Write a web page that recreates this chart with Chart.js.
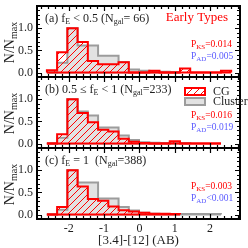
<!DOCTYPE html>
<html>
<head>
<meta charset="utf-8">
<script src="https://cdn.jsdelivr.net/npm/chart.js@4.4.1/dist/chart.umd.min.js"></script>
<style>
  body { margin: 0; background: #fff; }
  #wrap { position: relative; width: 248px; height: 248px; overflow: hidden; }
  canvas { position: absolute; left: 0; }
</style>
</head>
<body>
<div id="wrap">
  <canvas id="pa" width="248" height="79" style="top:0px"></canvas>
  <canvas id="pb" width="248" height="79" style="top:71px"></canvas>
  <canvas id="pc" width="248" height="106" style="top:142px"></canvas>
</div>
<script>
// bin edges of the [3.4]-[12] histograms
const binEdges = [-2.62, -2.33, -2.04, -1.75, -1.46, -1.17, -0.88, -0.59, -0.30, -0.01,
                  0.28, 0.57, 0.86, 1.15, 1.44, 1.73, 2.02, 2.31, 2.60, 2.89];

// N/Nmax per bin
const cgA      = [0.05, 0.46, 1.00, 0.69, 0.26, 0.19, 0.19, 0.23, 0, 0, 0.04, 0, 0, 0.09, 0, 0, 0, 0.04];
const clusterA = [0, 0.22, 1.00, 0.61, 0.61, 0.38, 0.38, 0.24, 0.07, 0.04, 0.02, 0.02, 0.01];
const cgB      = [0, 0.21, 1.00, 0.69, 0.48, 0.31, 0.27, 0.11, 0.04, 0.01, 0, 0, 0.05, 0, 0, 0, 0];
const clusterB = [0, 0.13, 1.00, 0.72, 0.63, 0.36, 0.36, 0.18, 0.08, 0.03, 0.02, 0.01, 0.01, 0.01];
const cgC      = [0, 0.17, 1.00, 0.63, 0.35, 0.31, 0.18, 0.10, 0.07, 0.04, 0.02, 0.02, 0.01];
const clusterC = [0, 0.11, 1.00, 0.72, 0.72, 0.36, 0.36, 0.17, 0.09, 0.04, 0.02, 0.01, 0.01, 0.01, 0.01, 0.01, 0.01];

const xTickValues = [-2, -1, 0, 1, 2];
const yTickValues = [0, 0.5, 1];
const pKS = ['=0.014', '=0.016', '=0.003'];
const pAD = ['=0.005', '=0.019', '<0.001'];
const panelLabels = [
  [['(a) f', 0], ['E', 1], [' < 0.5 (N', 0], ['gal', 1], ['= 66)', 0]],
  [['(b) 0.5 \u2264 f', 0], ['E', 1], [' < 1 (N', 0], ['gal', 1], ['=233)', 0]],
  [['(c) f', 0], ['E', 1], [' = 1  (N', 0], ['gal', 1], ['=388)', 0]]
];

const SERIF = '"Liberation Serif", "DejaVu Serif", serif';
const RED = '#ff0000';
const BLUE = '#5a5aff';
const INK = '#1e1e1e';
const GREY_FILL = '#e2e2e2';
const GREY_LINE = '#9c9c9c';

function makeHatch() {
  const c = document.createElement('canvas');
  c.width = 7; c.height = 7;
  const g = c.getContext('2d');
  g.strokeStyle = RED;
  g.lineWidth = 1;
  g.beginPath();
  g.moveTo(-1, 8); g.lineTo(8, -1);
  g.moveTo(-2, 2); g.lineTo(2, -2);
  g.moveTo(5, 9); g.lineTo(9, 5);
  g.stroke();
  return g.createPattern(c, 'repeat');
}
const hatch = makeHatch();

// outline of a histogram as points for a stepped line
function steps(vals) {
  const pts = [{ x: binEdges[0], y: 0 }];
  vals.forEach((v, i) => pts.push({ x: binEdges[i], y: v }));
  pts.push({ x: binEdges[vals.length], y: 0 });
  return pts;
}
function base(vals) {
  return [{ x: binEdges[0], y: 0 }, { x: binEdges[vals.length], y: 0 }];
}

function richText(ctx, parts, x, y, size, color, align) {
  const sub = Math.round(size * 0.7);
  let w = 0;
  parts.forEach(([t, s]) => {
    ctx.font = (s ? sub : size) + 'px ' + SERIF;
    w += ctx.measureText(t).width;
  });
  let cx = align === 'right' ? x - w : align === 'center' ? x - w / 2 : x;
  ctx.fillStyle = color;
  ctx.textBaseline = 'alphabetic';
  ctx.textAlign = 'left';
  parts.forEach(([t, s]) => {
    ctx.font = (s ? sub : size) + 'px ' + SERIF;
    ctx.fillText(t, cx, s ? y + size * 0.22 : y);
    cx += ctx.measureText(t).width;
  });
}

const panelPlugin = {
  id: 'panel',
  afterDatasetsDraw(chart, args, opts) {
    const ctx = chart.ctx;
    const { left, right, top, bottom } = chart.chartArea;
    const xs = chart.scales.x, ys = chart.scales.y;
    ctx.save();
    ctx.strokeStyle = '#000';
    ctx.lineWidth = 1.2;
    ctx.beginPath();
    for (let k = -14; k <= 14; k++) {
      const px = Math.round(xs.getPixelForValue(k * 0.2)) + 0.5;
      const len = k % 5 === 0 ? 5 : 3;
      ctx.moveTo(px, bottom); ctx.lineTo(px, bottom - len);
      ctx.moveTo(px, top); ctx.lineTo(px, top + len);
    }
    for (let k = -1; k <= 15; k++) {
      const py = Math.round(ys.getPixelForValue(k / 10)) + 0.5;
      const len = k % 5 === 0 ? 5 : 3;
      ctx.moveTo(left, py); ctx.lineTo(left + len, py);
      ctx.moveTo(right, py); ctx.lineTo(right - len, py);
    }
    ctx.stroke();
    ctx.lineWidth = 2;
    ctx.strokeRect(left, top, right - left, bottom - top);

    // panel texts
    richText(ctx, opts.label, 45, top + 15.5, 12, INK, 'left');
    richText(ctx, [['P', 0], ['KS', 1], [opts.pks, 0]], 191, top + 40.5, 9.5, RED, 'left');
    richText(ctx, [['P', 0], ['AD', 1], [opts.pad, 0]], 191, top + 52.5, 9.5, BLUE, 'left');
    if (opts.title) {
      ctx.font = '13px ' + SERIF;
      ctx.fillStyle = RED;
      ctx.textAlign = 'right';
      ctx.textBaseline = 'middle';
      ctx.fillText(opts.title, 228, top + 11.5);
    }
    if (opts.legend) {
      ctx.fillStyle = '#fff';
      ctx.fillRect(185, top + 11, 20, 7);
      ctx.fillStyle = hatch;
      ctx.fillRect(185, top + 11, 20, 7);
      ctx.strokeStyle = RED;
      ctx.lineWidth = 2;
      ctx.strokeRect(185, top + 11, 20, 7);
      ctx.fillStyle = GREY_FILL;
      ctx.fillRect(185, top + 21, 20, 7);
      ctx.strokeStyle = GREY_LINE;
      ctx.strokeRect(185, top + 21, 20, 7);
      ctx.font = '12px ' + SERIF;
      ctx.fillStyle = INK;
      ctx.textAlign = 'left';
      ctx.textBaseline = 'middle';
      ctx.fillText('CG', 213, top + 15);
      ctx.fillText('Cluster', 213, top + 25);
    }

    // y axis title N/Nmax
    ctx.translate(14, (top + bottom) / 2 + 1);
    ctx.rotate(-Math.PI / 2);
    const parts = [['N/N', 0], ['max', 1]];
    richText(ctx, parts, 0, 0, 14, INK, 'center');
    ctx.restore();
  }
};

function makePanel(id, cg, cl, i, showX) {
  const extra = {
    label: panelLabels[i], pks: pKS[i], pad: pAD[i],
    title: i === 0 ? 'Early Types' : null,
    legend: i === 1
  };
  return new Chart(document.getElementById(id), {
    type: 'line',
    data: {
      datasets: [
        { label: 'CG', data: steps(cg), stepped: true, borderColor: RED, borderWidth: 2,
          backgroundColor: hatch, fill: 'origin', pointRadius: 0, order: 0 },
        { label: 'CG base', data: base(cg), borderColor: RED, borderWidth: 2,
          fill: false, pointRadius: 0, order: 1 },
        { label: 'Cluster', data: steps(cl), stepped: true, borderColor: GREY_LINE, borderWidth: 2,
          backgroundColor: GREY_FILL, fill: 'origin', pointRadius: 0, order: 2 },
        { label: 'Cluster base', data: base(cl), borderColor: GREY_LINE, borderWidth: 2,
          fill: false, pointRadius: 0, order: 3 }
      ]
    },
    options: {
      responsive: false,
      animation: false,
      events: [],
      layout: { padding: { left: 0, right: 8, top: 6, bottom: showX ? 0 : 2 } },
      plugins: { legend: { display: false }, tooltip: { enabled: false }, panel: extra },
      scales: {
        x: {
          type: 'linear', min: -2.9, max: 2.85, display: showX,
          grid: { display: false, drawTicks: false }, border: { display: false },
          afterFit: s => {
            if (showX) s.height = 29;
            s.paddingLeft = 0; s.paddingRight = 0;
          },
          afterBuildTicks: s => { s.ticks = xTickValues.map(v => ({ value: v })); },
          ticks: {
            autoSkip: false, maxRotation: 0, padding: 3,
            font: { family: SERIF, size: 12 }, color: INK,
            callback: v => String(v)
          },
          title: { display: true, text: '[3.4]-[12] (AB)', color: INK,
                   font: { family: SERIF, size: 13 }, padding: { top: 0, bottom: 0 } }
        },
        y: {
          min: -0.1, max: 1.5,
          grid: { display: false, drawTicks: false }, border: { display: false },
          afterFit: s => {
            s.width = 37;
            s.paddingTop = 0; s.paddingBottom = 0;
          },
          afterBuildTicks: s => { s.ticks = yTickValues.map(v => ({ value: v })); },
          ticks: {
            padding: 4,
            font: { family: SERIF, size: 12 }, color: INK,
            callback: v => v.toFixed(1)
          }
        }
      }
    },
    plugins: [panelPlugin]
  });
}

makePanel('pa', cgA, clusterA, 0, false);
makePanel('pb', cgB, clusterB, 1, false);
makePanel('pc', cgC, clusterC, 2, true);
</script>
</body>
</html>
